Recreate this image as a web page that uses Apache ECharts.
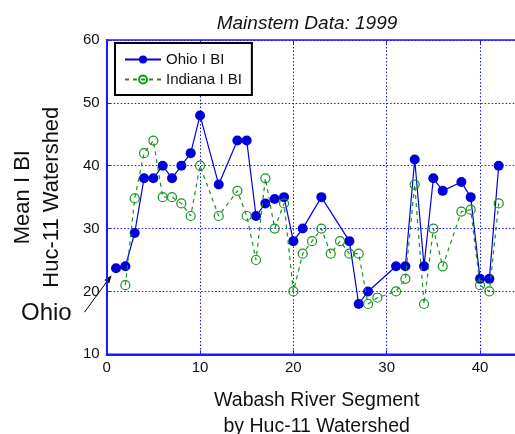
<!DOCTYPE html>
<html>
<head>
<meta charset="utf-8">
<script src="https://cdn.jsdelivr.net/npm/echarts@6/dist/echarts.min.js"></script>
<style>
  html, body { margin: 0; padding: 0; background: #fff; }
  #chart { width: 515px; height: 434px; }
</style>
</head>
<body>
<div id="chart"></div>
<script>
// Mean IBI per Wabash River segment (Huc-11 watershed), 1999 mainstem survey
const ohioX = [1, 2, 3, 4, 5, 6, 7, 8, 9, 10, 12, 14, 15, 16, 17, 18, 19, 20, 21, 23,
               26, 27, 28, 31, 32, 33, 34, 35, 36, 38, 39, 40, 41, 42];
const ohioY = [23.7, 24, 29.3, 38, 38, 40, 38, 40, 42, 48, 37, 44, 44, 32, 34, 34.7, 35, 28, 30, 35,
               28, 18, 20, 24, 24, 41, 24, 38, 36, 37.4, 35, 22, 22, 40];

const indianaX = [2, 3, 4, 5, 6, 7, 8, 9, 10, 12, 14, 15, 16, 17, 18, 19, 20, 21, 22, 23,
                  24, 25, 26, 27, 28, 29, 31, 32, 33, 34, 35, 36, 38, 39, 40, 41, 42];
const indianaY = [21, 34.8, 42, 44, 35, 35, 34, 32, 40, 32, 36, 32, 25, 38, 30, 34, 20, 26, 28, 30,
                  26, 28, 26, 26, 18, 19, 20, 22, 37, 18, 30, 24, 32.7, 33, 21, 20, 34];

const seriesNames = ['Ohio I BI', 'Indiana I BI'];
const titleText = 'Mainstem Data: 1999';
const xTitle = 'Wabash River Segment\nby Huc-11 Watershed';
const yTitle = 'Mean I BI\nHuc-11 Watershed';
const calloutText = 'Ohio';

const FONT = '"Liberation Sans", Arial, sans-serif';
const AXIS_BLUE = '#1a1aff';
const GRID_BLUE = '#1515ff';
const OHIO_BLUE = '#0000dd';
const IND_GREEN = '#13941c';

const chart = echarts.init(document.getElementById('chart'), null, { renderer: 'canvas' });

const pairs = (xs, ys) => xs.map((x, i) => [x, ys[i]]);

const gridDots = { type: [1.5, 2], color: GRID_BLUE, width: 1, opacity: 1 };

chart.setOption({
  animation: false,
  backgroundColor: '#fff',
  textStyle: { fontFamily: FONT },
  title: {
    text: titleText,
    left: 302,
    textAlign: 'center',
    top: 9,
    textStyle: { fontFamily: FONT, fontStyle: 'italic', fontWeight: 'normal', fontSize: 19, color: '#111' }
  },
  // plot box runs past the right edge of the canvas
  grid: {
    left: 106.7, top: 40, width: 420, height: 314.3,
    outerBoundsMode: 'none', containLabel: false,
    show: true, borderColor: AXIS_BLUE, borderWidth: 1.5, backgroundColor: 'transparent'
  },
  legend: {
    orient: 'vertical',
    left: 115, top: 43,
    padding: [9, 10, 8, 9],
    itemWidth: 36, itemHeight: 10, itemGap: 5,
    borderColor: '#000', borderWidth: 2, backgroundColor: '#fff',
    textStyle: { fontFamily: FONT, fontSize: 15, color: '#111' },
    data: seriesNames
  },
  xAxis: [{
    type: 'value', min: 0, max: 45, interval: 10,
    axisLine: { lineStyle: { color: AXIS_BLUE, width: 2 } },
    axisTick: { inside: true, length: 4, lineStyle: { color: AXIS_BLUE } },
    axisLabel: { color: '#111', fontSize: 15, margin: 6, fontFamily: FONT },
    splitLine: { lineStyle: gridDots },
    name: xTitle, nameLocation: 'middle', nameGap: 33,
    nameTextStyle: { fontFamily: FONT, fontSize: 19.5, lineHeight: 26, color: '#111', verticalAlign: 'top' }
  }, {
    type: 'value', position: 'top', min: 0, max: 45, interval: 10,
    axisLine: { show: false },
    axisTick: { inside: true, length: 4, lineStyle: { color: AXIS_BLUE } },
    axisLabel: { show: false },
    splitLine: { show: false }
  }],
  yAxis: {
    type: 'value', min: 10, max: 60, interval: 10,
    axisLine: { show: true, lineStyle: { color: AXIS_BLUE, width: 2 } },
    axisTick: { show: true, inside: true, length: 4, lineStyle: { color: AXIS_BLUE } },
    axisLabel: { color: '#111', fontSize: 15, margin: 7, fontFamily: FONT, padding: [0, 0, 6, 0] },
    splitLine: { lineStyle: gridDots },
    name: yTitle, nameLocation: 'middle', nameRotate: 90, nameGap: 40,
    nameTextStyle: { fontFamily: FONT, fontSize: 22, lineHeight: 29, color: '#111' }
  },
  series: [{
    name: seriesNames[0],
    type: 'line',
    data: pairs(ohioX, ohioY),
    symbol: 'circle', symbolSize: 10,
    lineStyle: { color: OHIO_BLUE, width: 1.2 },
    itemStyle: { color: OHIO_BLUE },
    z: 2
  }, {
    name: seriesNames[1],
    type: 'line',
    data: pairs(indianaX, indianaY),
    symbol: 'circle', symbolSize: 9,
    lineStyle: { color: IND_GREEN, width: 1.2, type: [4, 4] },
    itemStyle: { color: 'rgba(255,255,255,0)', borderColor: IND_GREEN, borderWidth: 1.2 },
    z: 3
  }]
});

// Callout arrow pointing at the first Ohio segment
const p = chart.convertToPixel({ gridIndex: 0 }, [ohioX[0], ohioY[0]]);
const tip = [p[0] - 4.5, p[1] + 7];
const tail = [tip[0] - 27, tip[1] + 37];
const ang = Math.atan2(tip[1] - tail[1], tip[0] - tail[0]);
const headLen = 8, headHalf = 3;
const base = [tip[0] - headLen * Math.cos(ang), tip[1] - headLen * Math.sin(ang)];
const nx = -Math.sin(ang), ny = Math.cos(ang);

chart.setOption({
  graphic: [{
    type: 'line',
    shape: { x1: tail[0], y1: tail[1], x2: base[0], y2: base[1] },
    style: { stroke: '#000', lineWidth: 1 }
  }, {
    type: 'polygon',
    shape: { points: [tip, [base[0] + nx * headHalf, base[1] + ny * headHalf], [base[0] - nx * headHalf, base[1] - ny * headHalf]] },
    style: { fill: '#000' }
  }, {
    type: 'text',
    left: 21, top: 301,
    style: { text: calloutText, font: '24px ' + FONT, fill: '#111' }
  }]
});
</script>
</body>
</html>
